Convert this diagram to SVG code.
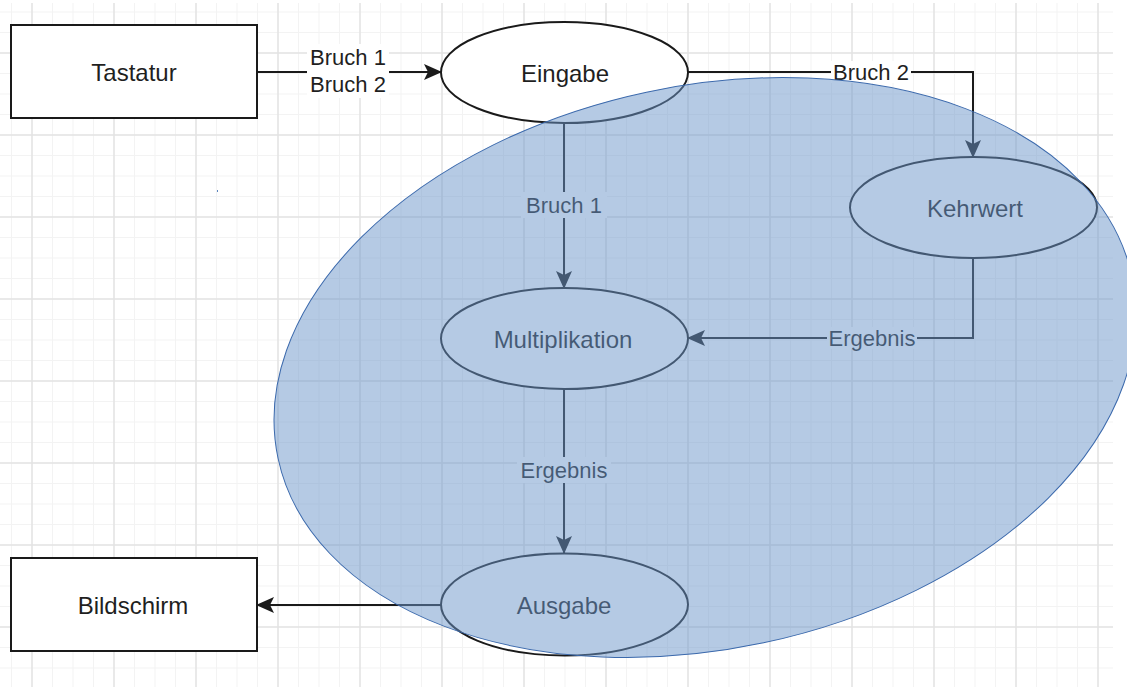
<svg xmlns="http://www.w3.org/2000/svg" width="1127" height="687" viewBox="0 0 1127 687">
  <style>
    .box { fill: #ffffff; stroke: #1a1a1a; stroke-width: 2; }
    .node-label { font-family: "Liberation Sans", Arial, sans-serif; font-size: 24px; fill: #1f1f1f; text-anchor: middle; dominant-baseline: central; }
    .edge { fill: none; stroke: #1a1a1a; stroke-width: 2; marker-end: url(#arrow); }
    .edge-label { font-family: "Liberation Sans", Arial, sans-serif; font-size: 22px; fill: #1f1f1f; text-anchor: middle; dominant-baseline: central; }
    .label-bg { fill: #ffffff; }
    .region { fill: rgb(108, 150, 202); fill-opacity: 0.5; stroke: #3b69ac; stroke-width: 1; }
  </style>
  <defs>
    <pattern id="gridMinor" width="20.5" height="20.5" patternUnits="userSpaceOnUse" x="1.25" y="1.75">
      <path d="M10.25 0 V20.5 M0 10.25 H20.5" stroke="#f3f3f3" stroke-width="1" fill="none"/>
    </pattern>
    <pattern id="gridMajor" width="82" height="82" patternUnits="userSpaceOnUse" x="-9" y="12">
      <path d="M41 0 V82 M0 41 H82" stroke="#e4e4e4" stroke-width="1.5" fill="none"/>
    </pattern>
    <marker id="arrow" viewBox="0 0 18 16" refX="17" refY="8" markerWidth="18" markerHeight="16" markerUnits="userSpaceOnUse" orient="auto">
      <path d="M0,0 L18,8 L0,16 L4,8 Z" fill="#1a1a1a"/>
    </marker>
  </defs>

  <!-- canvas -->
  <rect x="0" y="0" width="1127" height="687" fill="#ffffff"/>
  <g id="grid">
    <rect x="0" y="3" width="1113" height="684" fill="url(#gridMinor)"/>
    <rect x="0" y="3" width="1113" height="684" fill="url(#gridMajor)"/>
    <rect x="217" y="190" width="1" height="2" fill="#5b86c0"/>
  </g>

  <!-- connectors -->
  <g id="connectors">
    <path class="edge" d="M257 72 H441"/>
    <path class="edge" d="M688 72 H973 V157"/>
    <path class="edge" d="M564 123 V288"/>
    <path class="edge" d="M973 258 V338 H688"/>
    <path class="edge" d="M564 389 V553"/>
    <path class="edge" d="M441 605 H257"/>

    <rect class="label-bg" x="307" y="44" width="82" height="54"/>
    <text class="edge-label" x="348" y="57">Bruch 1</text>
    <text class="edge-label" x="348" y="84">Bruch 2</text>

    <rect class="label-bg" x="831" y="61" width="80" height="22"/>
    <text class="edge-label" x="871" y="72">Bruch 2</text>

    <rect class="label-bg" x="521" y="192" width="86" height="26"/>
    <text class="edge-label" x="564" y="205">Bruch 1</text>

    <rect class="label-bg" x="827" y="327" width="90" height="22"/>
    <text class="edge-label" x="872" y="338">Ergebnis</text>

    <rect class="label-bg" x="517" y="457" width="94" height="26"/>
    <text class="edge-label" x="564" y="470">Ergebnis</text>
  </g>

  <!-- nodes -->
  <g id="tastatur">
    <rect class="box" x="11" y="25" width="246" height="93"/>
    <text class="node-label" x="134" y="72">Tastatur</text>
  </g>
  <g id="eingabe">
    <ellipse class="box" cx="564.5" cy="72.5" rx="123.5" ry="50.5"/>
    <text class="node-label" x="565" y="73">Eingabe</text>
  </g>
  <g id="kehrwert">
    <ellipse class="box" cx="973.5" cy="207.5" rx="123.5" ry="50.5"/>
    <text class="node-label" x="975" y="208">Kehrwert</text>
  </g>
  <g id="multiplikation">
    <ellipse class="box" cx="564.5" cy="338.5" rx="123.5" ry="50.5"/>
    <text class="node-label" x="563" y="339">Multiplikation</text>
  </g>
  <g id="ausgabe">
    <ellipse class="box" cx="564.5" cy="604.5" rx="123.5" ry="51"/>
    <text class="node-label" x="564" y="605">Ausgabe</text>
  </g>
  <g id="bildschirm">
    <rect class="box" x="11" y="558" width="246" height="93"/>
    <text class="node-label" x="133" y="605">Bildschirm</text>
  </g>

  <!-- translucent region laid over the processing steps -->
  <g id="region">
    <ellipse class="region" cx="705" cy="367.5" rx="436.5" ry="281.5" transform="rotate(-12 705 367.5)"/>
  </g>
</svg>
